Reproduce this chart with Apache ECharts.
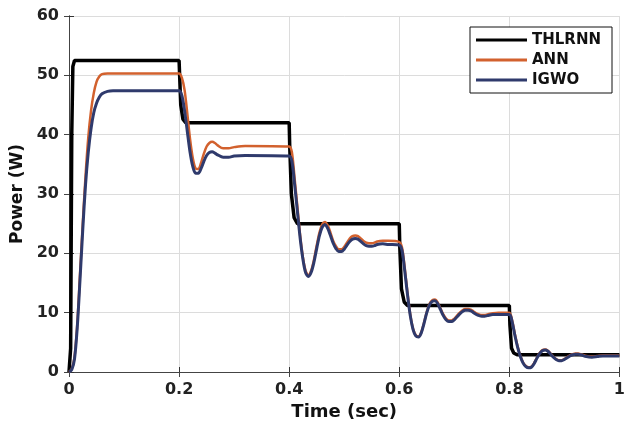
<!DOCTYPE html>
<html>
<head>
<meta charset="utf-8">
<script src="https://cdn.jsdelivr.net/npm/echarts@6/dist/echarts.min.js"></script>
<style>
html,body{margin:0;padding:0;background:#fff;}
#c{width:628px;height:426px;}
</style>
</head>
<body>
<div id="c"></div>
<script>
// ---- data ----
var seriesNames = ['THLRNN', 'ANN', 'IGWO'];
var xTicks = [0, 0.2, 0.4, 0.6, 0.8, 1];
var yTicks = [0, 10, 20, 30, 40, 50, 60];

// THLRNN (reference step profile)
var thlrnnTime = [0, 0.003, 0.005, 0.007, 0.01, 0.2, 0.201, 0.203, 0.207, 0.212, 0.4, 0.401, 0.404, 0.409, 0.415, 0.6, 0.601, 0.604, 0.609, 0.615, 0.8, 0.801, 0.804, 0.808, 0.814, 1];
var thlrnnPower = [0, 4, 40, 51.5, 52.5, 52.5, 50, 45, 42.6, 42, 42, 38, 30, 26, 25, 25, 21, 14, 11.8, 11.2, 11.2, 8, 4, 3.2, 2.9, 2.9];

// shared time base for ANN and IGWO
var respTime = [
  0, 0.005, 0.01, 0.015, 0.02, 0.025, 0.03, 0.035, 0.04, 0.045, 0.05, 0.055, 0.06, 0.07, 0.08, 0.1, 0.2,
  0.205, 0.21, 0.215, 0.22, 0.225, 0.23, 0.235, 0.24, 0.245, 0.25, 0.255, 0.26, 0.265, 0.27, 0.28, 0.29, 0.3, 0.32, 0.4,
  0.405, 0.41, 0.415, 0.42, 0.425, 0.43, 0.435, 0.44, 0.445, 0.45, 0.455, 0.46, 0.465, 0.47, 0.475, 0.48, 0.485, 0.49, 0.495, 0.5, 0.505, 0.51, 0.515, 0.52, 0.525, 0.53, 0.535, 0.54, 0.545, 0.55, 0.555, 0.56, 0.57, 0.58, 0.6,
  0.605, 0.61, 0.615, 0.62, 0.625, 0.63, 0.635, 0.64, 0.645, 0.65, 0.655, 0.66, 0.665, 0.67, 0.675, 0.68, 0.685, 0.69, 0.695, 0.7, 0.705, 0.71, 0.715, 0.72, 0.725, 0.73, 0.735, 0.74, 0.745, 0.75, 0.755, 0.76, 0.77, 0.78, 0.8,
  0.805, 0.81, 0.815, 0.82, 0.825, 0.83, 0.835, 0.84, 0.845, 0.85, 0.855, 0.86, 0.865, 0.87, 0.875, 0.88, 0.885, 0.89, 0.895, 0.9, 0.905, 0.91, 0.915, 0.92, 0.925, 0.93, 0.94, 0.95, 0.96, 0.97, 0.98, 1
];
var annPower = [
  0, 0.5, 2.5, 8, 16.5, 25, 33, 39.5, 44, 47, 48.9, 49.8, 50.2, 50.3, 50.3, 50.3, 50.3,
  49.6, 47.5, 43.5, 39.2, 36, 34.3, 34.2, 35.3, 36.8, 38.0, 38.6, 38.8, 38.6, 38.2, 37.7, 37.7, 37.9, 38.1, 38.0,
  37.0, 32.5, 27.8, 23, 19.3, 17, 16.3, 17.1, 18.9, 21.3, 23.5, 24.9, 25.3, 24.7, 23.5, 22.1, 21.2, 20.7, 20.7, 21.1, 21.8, 22.5, 22.9, 23.0, 22.9, 22.5, 22.1, 21.8, 21.7, 21.7, 21.8, 22.0, 22.1, 22.1, 21.9,
  21, 17.5, 13.3, 9.7, 7.3, 6.2, 6.0, 6.7, 8.3, 10.1, 11.5, 12.1, 12.2, 11.7, 10.7, 9.7, 9.0, 8.7, 8.7, 9.0, 9.5, 10.0, 10.4, 10.6, 10.6, 10.5, 10.2, 9.9, 9.7, 9.6, 9.6, 9.7, 9.9, 10.0, 10.0,
  8.7, 6.4, 4.3, 2.7, 1.6, 1.0, 0.8, 0.9, 1.5, 2.4, 3.2, 3.7, 3.8, 3.6, 3.1, 2.6, 2.2, 2.0, 2.0, 2.2, 2.5, 2.8, 3.0, 3.1, 3.1, 3.0, 2.7, 2.6, 2.7, 2.8, 2.8, 2.8
];
var igwoPower = [
  0, 0.4, 2.2, 7.5, 15.5, 24, 31.5, 37, 41, 43.7, 45.3, 46.3, 46.9, 47.3, 47.4, 47.4, 47.4,
  46.6, 44, 40.5, 37, 34.6, 33.5, 33.5, 34.3, 35.5, 36.5, 37.0, 37.1, 36.9, 36.6, 36.2, 36.2, 36.4, 36.5, 36.4,
  35.5, 31.5, 27, 22.5, 19, 16.7, 16.1, 16.8, 18.5, 20.8, 23, 24.4, 24.8, 24.2, 23, 21.7, 20.8, 20.3, 20.3, 20.7, 21.4, 22.0, 22.4, 22.5, 22.4, 22.0, 21.6, 21.3, 21.2, 21.2, 21.3, 21.5, 21.6, 21.5, 21.4,
  20.5, 17, 13, 9.5, 7.2, 6.1, 5.9, 6.6, 8.2, 10, 11.3, 11.9, 12.0, 11.5, 10.5, 9.5, 8.8, 8.5, 8.5, 8.8, 9.3, 9.8, 10.2, 10.4, 10.4, 10.3, 10.0, 9.7, 9.5, 9.4, 9.4, 9.5, 9.7, 9.7, 9.7,
  8.5, 6.2, 4.2, 2.6, 1.5, 0.9, 0.7, 0.8, 1.4, 2.3, 3.1, 3.6, 3.7, 3.5, 3.0, 2.5, 2.1, 1.9, 1.9, 2.1, 2.4, 2.7, 2.9, 3.0, 3.0, 2.9, 2.6, 2.5, 2.6, 2.7, 2.7, 2.7
];

function zip(t, v) { return t.map(function (x, i) { return [x, v[i]]; }); }

var FONT = '"DejaVu Sans", sans-serif';
var chart = echarts.init(document.getElementById('c'), null, { renderer: 'canvas' });

var xMin = xTicks[0], xMax = xTicks[xTicks.length - 1];
var yMin = yTicks[0], yMax = yTicks[yTicks.length - 1];

var option = {
  animation: false,
  backgroundColor: '#ffffff',
  grid: { left: 69, right: 3, top: 16, bottom: 54, containLabel: false },
  legend: {
    data: seriesNames,
    orient: 'vertical',
    left: 470, top: 27,
    padding: [5, 11, 5, 6],
    itemGap: 4,
    itemWidth: 51, itemHeight: 3,
    icon: 'rect',
    backgroundColor: '#ffffff',
    borderColor: '#111', borderWidth: 1,
    textStyle: { fontFamily: FONT, fontWeight: 'bold', fontSize: 15, color: '#111', lineHeight: 16 }
  },
  xAxis: [{
    type: 'value', min: xMin, max: xMax, interval: 0.2,
    name: 'Time (sec)', nameLocation: 'middle', nameGap: 20,
    nameTextStyle: { fontFamily: FONT, fontWeight: 'bold', fontSize: 18, color: '#111' },
    axisLine: { show: true, lineStyle: { color: '#333', width: 1 } },
    axisTick: { show: true, inside: true, length: 5, lineStyle: { color: '#333' } },
    axisLabel: { margin: 10, fontFamily: FONT, fontWeight: 'bold', fontSize: 16, color: '#222',
      formatter: function (v) { return String(+v.toFixed(1)); } },
    splitLine: { show: true, lineStyle: { color: '#dcdcdc', width: 1 } }
  }, {
    type: 'value', min: xMin, max: xMax, interval: 0.2, position: 'top',
    axisLine: { show: true, lineStyle: { color: '#444', width: 1 } },
    axisTick: { show: true, inside: true, length: 5, lineStyle: { color: '#444' } },
    axisLabel: { show: false }, splitLine: { show: false }
  }],
  yAxis: [{
    type: 'value', min: yMin, max: yMax, interval: 10,
    name: 'Power (W)', nameLocation: 'middle', nameGap: 42, nameRotate: 90,
    nameTextStyle: { fontFamily: FONT, fontWeight: 'bold', fontSize: 17, color: '#111' },
    axisLine: { show: true, lineStyle: { color: '#333', width: 1 } },
    axisTick: { show: true, inside: true, length: 5, lineStyle: { color: '#333' } },
    axisLabel: { margin: 10, fontFamily: FONT, fontWeight: 'bold', fontSize: 16, color: '#222' },
    splitLine: { show: true, lineStyle: { color: '#dcdcdc', width: 1 } }
  }, {
    type: 'value', min: yMin, max: yMax, interval: 10, position: 'right',
    axisLine: { show: true, lineStyle: { color: '#444', width: 1 } },
    axisTick: { show: true, inside: true, length: 5, lineStyle: { color: '#444' } },
    axisLabel: { show: false }, splitLine: { show: false }
  }],
  series: [{
    name: seriesNames[0], type: 'line', symbol: 'none',
    data: zip(thlrnnTime, thlrnnPower),
    lineStyle: { color: '#000000', width: 3.5 }, itemStyle: { color: '#000000' }, z: 2
  }, {
    name: seriesNames[1], type: 'line', symbol: 'none', smooth: 0.3,
    data: zip(respTime, annPower),
    lineStyle: { color: '#d2612e', width: 2.5 }, itemStyle: { color: '#d2612e' }, z: 3
  }, {
    name: seriesNames[2], type: 'line', symbol: 'none', smooth: 0.3,
    data: zip(respTime, igwoPower),
    lineStyle: { color: '#2f3a6c', width: 3 }, itemStyle: { color: '#2f3a6c' }, z: 4
  }]
};
chart.setOption(option);
</script>
</body>
</html>
